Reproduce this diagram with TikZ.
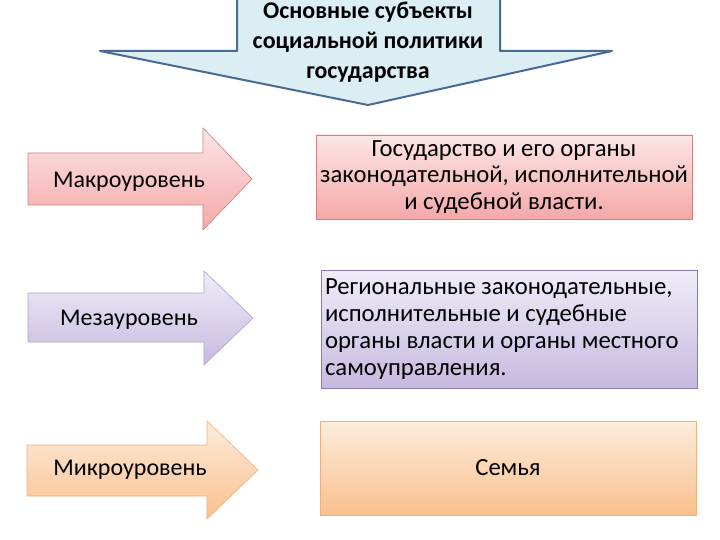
\documentclass[tikz,border=0pt]{standalone}
\usepackage{fontspec}
\setmainfont{Carlito}
\usetikzlibrary{positioning}
\definecolor{topfill}{HTML}{DAEEF3}
\definecolor{topline}{HTML}{4A6A96}
\definecolor{pinktop}{HTML}{FCE6E6}
\definecolor{pinkbot}{HTML}{F5A8A8}
\definecolor{pinkline}{HTML}{D08080}
\definecolor{lilactop}{HTML}{F0ECF8}
\definecolor{lilacbot}{HTML}{C6BAE0}
\definecolor{lilacline}{HTML}{8C78B0}
\definecolor{orangetop}{HTML}{FDECDB}
\definecolor{orangebot}{HTML}{FAC08E}
\definecolor{orangeline}{HTML}{EFB080}
\tikzset
{
	levelbox/.style = {rectangle, draw, align=center, minimum width=376pt, inner sep=4pt, font=\fontsize{24.7}{26.8}\selectfont},
	levelarrow/.style = {draw, line width=0.6pt},
	levellabel/.style = {align=center, font=\fontsize{24}{26}\selectfont},
	titlearrow/.style = {draw=topline, fill=topfill, line width=2pt, line join=round}
}

\begin{document}
\begin{tikzpicture}[x=1pt, y=-1pt]
\clip (0,0) rectangle (720,540);
\fill[white] (0,0) rectangle (720,540);
% top arrow
\path[titlearrow] (237,-10) -- (237,51) -- (100,51) -- (368,105) -- (612,51) -- (500,51) -- (500,-10);
\node[align=center, font=\bfseries\fontsize{24}{30}\selectfont] (title) at (368,42) {Основные субъекты\\социальной политики\\государства};
% left arrows
\path[levelarrow, draw=pinkline, top color=pinktop, bottom color=pinkbot] (28,153) -- (203,153) -- (203,128) -- (252,179) -- (203,230) -- (203,205) -- (28,205) -- cycle;
\path[levelarrow, draw=lilacline!70, top color=lilactop, bottom color=lilacbot] (28,293) -- (204,293) -- (204,271) -- (253,318) -- (204,365) -- (204,342) -- (28,342) -- cycle;
\path[levelarrow, draw=orangeline, top color=orangetop, bottom color=orangebot] (27,445) -- (207,445) -- (207,421) -- (258,470) -- (207,519) -- (207,496) -- (27,496) -- cycle;
\node[levellabel] (macro) at (129,182) {Макроуровень};
\node[levellabel] (meso) at (129,320) {Мезауровень};
\node[levellabel] (micro) at (130,470) {Микроуровень};
% right boxes
\node[levelbox, draw=pinkline, top color=pinktop, bottom color=pinkbot, minimum height=84pt] (macrobox) at (504,177) {Государство и его органы\\законодательной, исполнительной\\и судебной власти.};
\node[levelbox, draw=lilacline, top color=lilactop, bottom color=lilacbot, minimum height=118pt, text width=368pt, align=flush left] (mesobox) at (509,329) {Региональные законодательные,\\исполнительные и судебные\\органы власти и органы местного\\самоуправления.};
\node[levelbox, draw=orangeline, top color=orangetop, bottom color=orangebot, minimum height=94pt] (microbox) at (508,468) {Семья};
\end{tikzpicture}
\end{document}
